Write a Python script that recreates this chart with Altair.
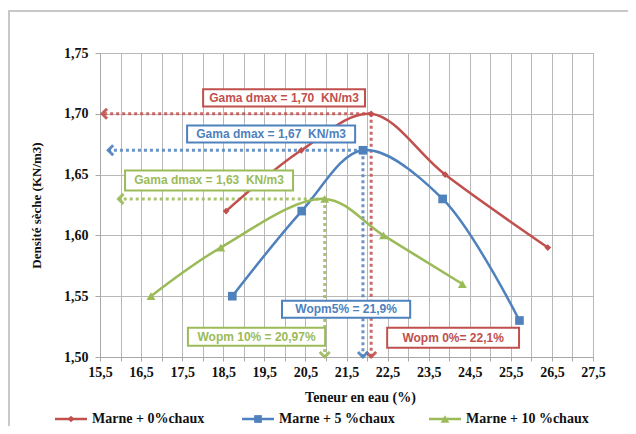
import altair as alt
import pandas as pd

# ---------------- data ----------------
series = ["Marne + 0%chaux", "Marne + 5 %chaux", "Marne + 10 %chaux"]
colors = ["#C0504D", "#4F81BD", "#9BBB59"]

teneur_0 = [18.57, 20.40, 22.10, 23.90, 26.40]
dens_0 = [1.62, 1.67, 1.70, 1.65, 1.59]
teneur_5 = [18.72, 20.41, 21.90, 23.84, 25.71]
dens_5 = [1.55, 1.62, 1.67, 1.63, 1.53]
teneur_10 = [16.74, 18.44, 20.97, 22.40, 24.32]
dens_10 = [1.55, 1.59, 1.63, 1.60, 1.56]

w_opt = [22.10, 21.90, 20.97]
d_max = [1.70, 1.67, 1.63]
arrow_w_end = [15.55, 15.70, 15.95]

gama_text = ["Gama dmax = 1,70\u00a0 KN/m3", "Gama dmax = 1,67\u00a0 KN/m3", "Gama dmax = 1,63\u00a0 KN/m3"]
gama_x1 = [18.01, 17.62, 16.11]
gama_x2 = [21.95, 21.71, 20.20]
gama_y1 = [1.7201, 1.6904, 1.6534]
gama_y2 = [1.7061, 1.6764, 1.6369]

wopm_text = ["Wopm 0%= 22,1%", "Wopm5% = 21,9%", "Wopm 10% = 20,97%"]
wopm_x1 = [22.49, 19.93, 17.64]
wopm_x2 = [25.70, 23.05, 20.98]
wopm_y1 = [1.5240, 1.5463, 1.5240]
wopm_y2 = [1.5076, 1.5323, 1.5093]

x_domain = [15.5, 27.5]
y_domain = [1.50, 1.75]
x_ticks = [15.5, 16.0, 16.5, 17.0, 17.5, 18.0, 18.5, 19.0, 19.5, 20.0, 20.5, 21.0, 21.5,
           22.0, 22.5, 23.0, 23.5, 24.0, 24.5, 25.0, 25.5, 26.0, 26.5, 27.0, 27.5]
y_ticks = [1.50, 1.55, 1.60, 1.65, 1.70, 1.75]

marker_shapes = ["diamond", "square", "triangle-up"]
marker_sizes = [45, 75, 80]

# ---------------- tables ----------------
rows = []
for s, ws, ds in zip(series, [teneur_0, teneur_5, teneur_10], [dens_0, dens_5, dens_10]):
    for i, (w, d) in enumerate(zip(ws, ds)):
        rows.append({"serie": s, "w": w, "d": d, "i": i})
curves = pd.DataFrame(rows)

opt = pd.DataFrame({"serie": series, "w": w_opt, "d": d_max, "w_end": arrow_w_end,
                    "d_base": [y_domain[0]] * 3})
gama = pd.DataFrame({"serie": series, "text": gama_text, "x1": gama_x1, "x2": gama_x2,
                     "y1": gama_y1, "y2": gama_y2})
wopm = pd.DataFrame({"serie": series, "text": wopm_text, "x1": wopm_x1, "x2": wopm_x2,
                     "y1": wopm_y1, "y2": wopm_y2})
boxes = pd.concat([gama, wopm], ignore_index=True)
boxes["xc"] = (boxes["x1"] + boxes["x2"]) / 2
boxes["yc"] = (boxes["y1"] + boxes["y2"]) / 2
leg_df = pd.DataFrame({"serie": series})

# ---------------- scales / axes ----------------
serif = "Liberation Serif"
xs = alt.Scale(domain=x_domain, nice=False, zero=False)
ys = alt.Scale(domain=y_domain, nice=False, zero=False)
cs = alt.Scale(domain=series, range=colors)

x_axis = alt.Axis(
    values=x_ticks,
    labelExpr="(datum.value * 2) % 2 == 1 ? replace(format(datum.value, '.1f'), '.', ',') : ''",
    labelOverlap=False, labelFlush=False,
    tickSize=4, labelPadding=4,
    title="Teneur en eau (%)", titleX=260, titleY=40, titleBaseline="middle",
    titleAlign="center",
)
y_axis = alt.Axis(
    values=y_ticks,
    labelExpr="replace(format(datum.value, '.2f'), '.', ',')",
    labelOverlap=False, labelFlush=False,
    tickSize=5, labelPadding=7,
    title="Densité sèche (KN/m3)", titleX=-64, titleY=152, titleAngle=270,
    titleBaseline="middle", titleAlign="center", titleFontSize=13,
)

X = alt.X("w:Q", scale=xs, axis=x_axis)
Y = alt.Y("d:Q", scale=ys, axis=y_axis)
C = alt.Color("serie:N", scale=cs, legend=None)

# outer frame (decoration)
frame = alt.Chart(pd.DataFrame({"k": [0]})).mark_rect(
    fillOpacity=0, stroke="#c8c8c8", strokeWidth=2
).encode(x=alt.value(-91), x2=alt.value(800), y=alt.value(-42), y2=alt.value(700))

# dotted guides
h_guides = alt.Chart(opt).mark_rule(strokeDash=[3, 3], strokeWidth=3, opacity=0.85).encode(
    x=alt.X("w:Q", scale=xs, axis=x_axis), x2="w_end:Q", y=alt.Y("d:Q", scale=ys, axis=y_axis), color=C)
v_guides = alt.Chart(opt).mark_rule(strokeDash=[3, 3], strokeWidth=3, opacity=0.85).encode(
    x=alt.X("w:Q", scale=xs, axis=x_axis), y=alt.Y("d:Q", scale=ys, axis=y_axis), y2="d_base:Q", color=C)
left_arrows = alt.Chart(opt).mark_point(shape="M1,-1L0,0L1,1", filled=False, strokeWidth=3,
                                        size=100, opacity=0.9).encode(
    x=alt.X("w_end:Q", scale=xs, axis=x_axis), y=alt.Y("d:Q", scale=ys, axis=y_axis), color=C)
down_arrows = alt.Chart(opt).mark_point(shape="M-1,-1L0,0L1,-1", filled=False, strokeWidth=3,
                                        size=100, opacity=0.9).encode(
    x=alt.X("w:Q", scale=xs, axis=x_axis), y=alt.Y("d_base:Q", scale=ys, axis=y_axis), color=C)

# curves
base = alt.Chart(curves)
lines = base.mark_line(strokeWidth=2.5, interpolate="catmull-rom").encode(
    x=X, y=Y, color=C, order="i:Q")
markers = []
for s, shp, sz in zip(series, marker_shapes, marker_sizes):
    markers.append(
        base.transform_filter(alt.datum.serie == s)
        .mark_point(shape=shp, filled=True, size=sz, opacity=1)
        .encode(x=X, y=Y, color=C)
    )

# annotation boxes
box_rects = alt.Chart(boxes).mark_rect(fill="white", strokeWidth=2).encode(
    x=alt.X("x1:Q", scale=xs, axis=x_axis), x2="x2:Q",
    y=alt.Y("y1:Q", scale=ys, axis=y_axis), y2="y2:Q",
    stroke=alt.Stroke("serie:N", scale=cs, legend=None))
box_text = alt.Chart(boxes).mark_text(font="Liberation Sans", fontWeight="bold", fontSize=12).encode(
    x=alt.X("xc:Q", scale=xs, axis=x_axis), y=alt.Y("yc:Q", scale=ys, axis=y_axis),
    text="text:N", color=C)

main = alt.layer(frame, h_guides, v_guides, lines, *markers, left_arrows, down_arrows,
                 box_rects, box_text)

# legend drawn from the series list (own point scale for entry placement)
LX = alt.X("serie:N", scale=alt.Scale(type="point", domain=series, range=[-29, 345], padding=0),
           axis=None)
LY = alt.value(366)
leg_line = alt.Chart(leg_df).mark_point(shape="M-1,0H1", filled=False, strokeWidth=2.5,
                                        size=1024, opacity=1).encode(x=LX, y=LY, color=C)
leg_mark = alt.Chart(leg_df).mark_point(filled=True, opacity=1).encode(
    x=LX, y=LY, color=C,
    shape=alt.Shape("serie:N", scale=alt.Scale(domain=series, range=marker_shapes), legend=None),
    size=alt.Size("serie:O", scale=alt.Scale(domain=series, range=marker_sizes), legend=None),
)
leg_text = alt.Chart(leg_df).mark_text(align="left", dx=21, font=serif, fontWeight="bold",
                                       fontSize=14, color="#111").encode(x=LX, y=LY, text="serie:N")

chart = alt.layer(main, leg_line, leg_mark, leg_text).resolve_scale(x="independent").properties(
    width=493, height=304, background="white",
    autosize=alt.AutoSizeParams(type="none"),
    padding={"left": 92, "top": 45, "right": 35, "bottom": 69},
).configure_view(
    stroke="#a8a8a8", strokeWidth=1
).configure_axis(
    gridColor="#b8b8b8", gridWidth=1, domainColor="#a8a8a8", tickColor="#a8a8a8",
    labelFont=serif, labelFontWeight="bold", labelFontSize=14, labelColor="#111",
    titleFont=serif, titleFontWeight="bold", titleFontSize=14, titleColor="#111",
)

chart.save("out.html", embed_options={"renderer": "svg", "actions": False})
